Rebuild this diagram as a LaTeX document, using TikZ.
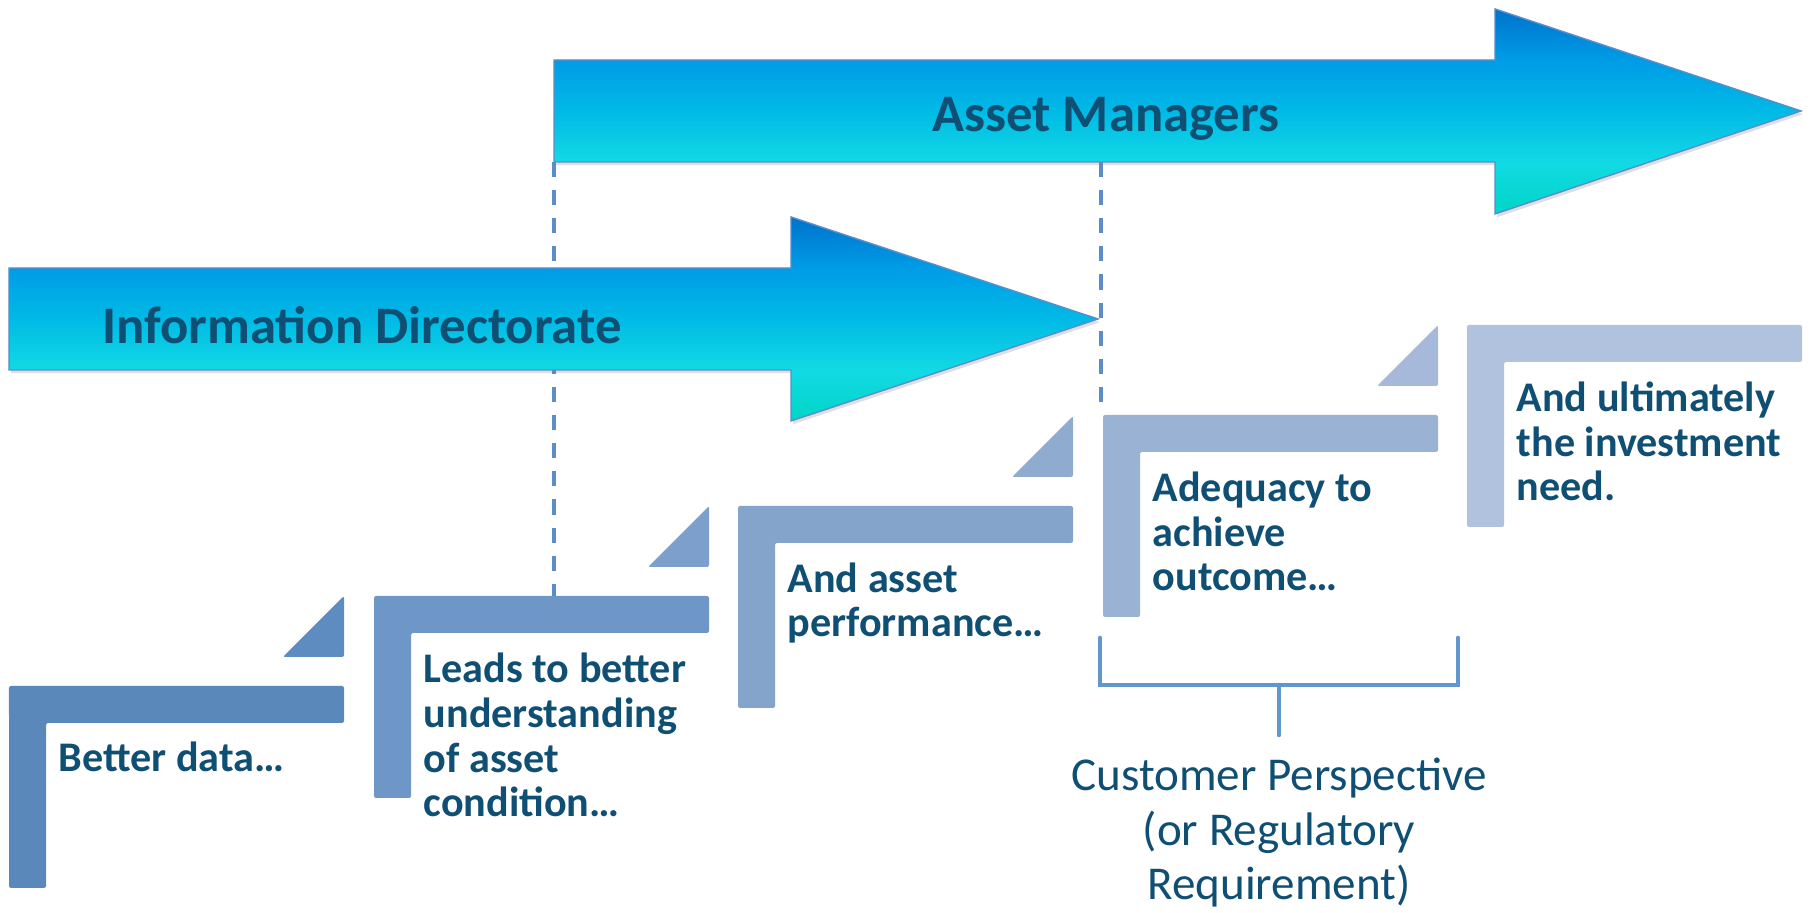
\documentclass[tikz,border=0pt]{standalone}
\usepackage{fontspec}
\setmainfont{Carlito}
\usetikzlibrary{shadows}

\definecolor{txtblue}{HTML}{0F4F74}
\definecolor{arrtop}{HTML}{0072CC}
\definecolor{arrhi}{HTML}{009CE6}
\definecolor{arrmid}{HTML}{00BAE6}
\definecolor{arrlo}{HTML}{12DAE4}
\definecolor{arrbot}{HTML}{00D5C6}
\definecolor{arrline}{HTML}{5B8DC8}
\definecolor{stepa}{HTML}{5A88BA}
\definecolor{stepb}{HTML}{6E97C7}
\definecolor{stepc}{HTML}{84A4CB}
\definecolor{stepd}{HTML}{9AB2D4}
\definecolor{stepe}{HTML}{B0C2DD}
\definecolor{tria}{HTML}{5E8CC0}
\definecolor{trib}{HTML}{7C9FCB}
\definecolor{tric}{HTML}{90ABD0}
\definecolor{trid}{HTML}{A6B9DA}
\definecolor{dashblue}{HTML}{5B8DC8}
\definecolor{braceblue}{HTML}{6396CC}

\pgfdeclareverticalshading{bigarrow}{100bp}{color(0bp)=(arrbot); color(25bp)=(arrbot); color(37.5bp)=(arrlo); color(50bp)=(arrmid); color(62.5bp)=(arrhi); color(75bp)=(arrtop); color(100bp)=(arrtop)}

\begin{document}
\begin{tikzpicture}[
    bigarrow/.style={shade,shading=bigarrow,draw=arrline,line width=0.4pt,drop shadow={opacity=0.25,shadow xshift=0.6pt,shadow yshift=-0.9pt}},
    arrowtext/.style={anchor=base,inner sep=0pt,text=txtblue,font=\fontsize{15}{18}\selectfont\bfseries},
    steptext/.style={anchor=base west,align=left,inner sep=0pt,text=txtblue,font=\fontsize{12}{12.8}\selectfont\bfseries},
    guide/.style={dashblue,line width=1.15pt,dash pattern=on 4.3pt off 3.7pt},
    brace/.style={braceblue,line width=1.3pt,line cap=round}
]
    \useasboundingbox (0,0) rectangle (18.11,9.13);
    \coordinate (am1) at (5.54,7.51);
    \coordinate (am2) at (11.01,7.51);
    \coordinate (st2) at (5.54,3.17);
    \coordinate (st4) at (11.01,4.98);
    \draw [guide] (am1) -- (st2);
    \draw [guide] (am2) -- (st4);
    \path [bigarrow] (5.54,8.53) -- (14.95,8.53) -- (14.95,9.04) -- (18.01,8.02) -- (14.95,6.99) -- (14.95,7.51) -- (5.54,7.51) -- cycle;
    \path [bigarrow] (0.09,6.45) -- (7.91,6.45) -- (7.91,6.96) -- (10.98,5.94) -- (7.91,4.92) -- (7.91,5.43) -- (0.09,5.43) -- cycle;
    \node (assetlbl) [arrowtext] at (11.06,7.81) {Asset Managers};
    \node (infolbl) [arrowtext] at (3.62,5.69) {Information Directorate};
    \fill [stepa,rounded corners=0.6pt] (0.09,2.27) -- ++(3.35,0) -- ++(0,-0.37) -- ++(-2.98,0) -- ++(0,-1.65) -- ++(-0.37,0) -- cycle;
    \fill [tria,rounded corners=0.6pt] (2.83,2.56) -- (3.44,2.56) -- (3.44,3.17) -- cycle;
    \fill [stepb,rounded corners=0.6pt] (3.74,3.17) -- ++(3.35,0) -- ++(0,-0.37) -- ++(-2.98,0) -- ++(0,-1.65) -- ++(-0.37,0) -- cycle;
    \fill [trib,rounded corners=0.6pt] (6.48,3.46) -- (7.09,3.46) -- (7.09,4.07) -- cycle;
    \fill [stepc,rounded corners=0.6pt] (7.38,4.07) -- ++(3.35,0) -- ++(0,-0.37) -- ++(-2.98,0) -- ++(0,-1.65) -- ++(-0.37,0) -- cycle;
    \fill [tric,rounded corners=0.6pt] (10.12,4.36) -- (10.73,4.36) -- (10.73,4.97) -- cycle;
    \fill [stepd,rounded corners=0.6pt] (11.03,4.98) -- ++(3.35,0) -- ++(0,-0.37) -- ++(-2.98,0) -- ++(0,-1.65) -- ++(-0.37,0) -- cycle;
    \fill [trid,rounded corners=0.6pt] (13.77,5.27) -- (14.38,5.27) -- (14.38,5.88) -- cycle;
    \fill [stepe,rounded corners=0.6pt] (14.67,5.88) -- ++(3.35,0) -- ++(0,-0.37) -- ++(-2.98,0) -- ++(0,-1.65) -- ++(-0.37,0) -- cycle;
    \node (better) [steptext] at (0.58,1.41) {Better data…};
    \node (leads) [steptext] at (4.23,0.96) {Leads to better\\understanding\\of asset\\condition…};
    \node (perf) [steptext] at (7.87,2.76) {And asset\\performance…};
    \node (adeq) [steptext] at (11.52,3.22) {Adequacy to\\achieve\\outcome…};
    \node (invest) [steptext] at (15.16,4.12) {And ultimately\\the investment\\need.};
    \coordinate (bl) at (11.00,2.75);
    \coordinate (blb) at (11.00,2.28);
    \coordinate (brb) at (14.58,2.28);
    \coordinate (br) at (14.58,2.75);
    \coordinate (bm) at (12.79,2.28);
    \coordinate (bs) at (12.79,1.78);
    \draw [brace] (bl) -- (blb) -- (brb) -- (br);
    \draw [brace] (bm) -- (bs);
    \node (cust) [anchor=base,align=center,inner sep=0pt,text=txtblue,font=\fontsize{13.4}{15.6}\selectfont] at (12.79,0.13) {Customer Perspective\\(or Regulatory\\Requirement)};
\end{tikzpicture}
\end{document}
